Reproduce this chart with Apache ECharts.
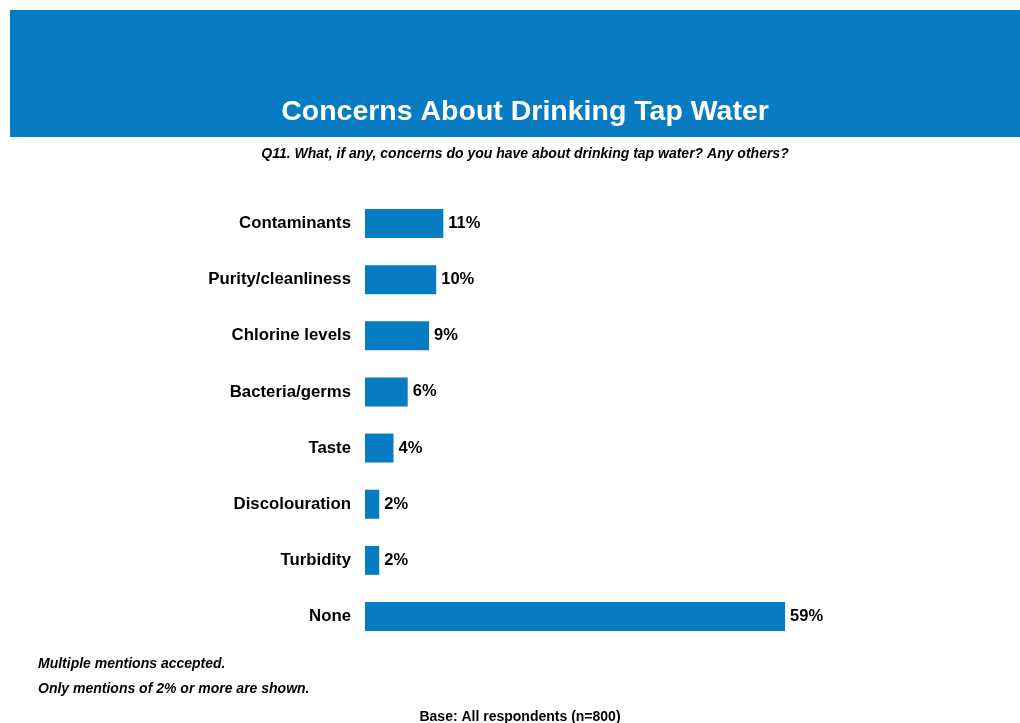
<!DOCTYPE html>
<html>
<head>
<meta charset="utf-8">
<script src="https://cdn.jsdelivr.net/npm/echarts@6/dist/echarts.min.js"></script>
<style>
  html, body { margin: 0; padding: 0; background: #fff; }
  #chart { width: 1020px; height: 723px; }
</style>
</head>
<body>
<div id="chart"></div>
<script>
// Survey responses: concerns about drinking tap water (% of respondents)
const categories = ['Contaminants', 'Purity/cleanliness', 'Chlorine levels', 'Bacteria/germs', 'Taste', 'Discolouration', 'Turbidity', 'None'];
const values = [11, 10, 9, 6, 4, 2, 2, 59];

const titleText = 'Concerns About Drinking Tap Water';
const questionText = 'Q11. What, if any, concerns do you have about drinking tap water? Any others?';
const noteLines = ['Multiple mentions accepted.', 'Only mentions of 2% or more are shown.'];
const baseText = 'Base: All respondents (n=800)';

const BLUE = '#087CC2';
const FONT = '"Liberation Sans", Arial, Helvetica, sans-serif';

// text centred vertically on y
const txt = (x, y, text, font, align, fill) => ({
  type: 'text', x, y, z: 2,
  style: { text, font, fill: fill || '#000', align, verticalAlign: 'middle' }
});

const chart = echarts.init(document.getElementById('chart'));
chart.setOption({
  animation: false,
  graphic: [
    { type: 'rect', shape: { x: 10, y: 10, width: 1010, height: 127 }, style: { fill: BLUE }, z: 0 },
    txt(525, 112, titleText, 'bold 28.5px ' + FONT, 'center', '#fff'),
    txt(525, 154, questionText, 'italic bold 14px ' + FONT, 'center'),
    txt(38, 664, noteLines[0], 'italic bold 14px ' + FONT, 'left'),
    txt(38, 689, noteLines[1], 'italic bold 14px ' + FONT, 'left'),
    txt(520, 717, baseText, 'bold 14px ' + FONT, 'center')
  ],
  grid: { left: 365, right: 85.4, top: 195.4, bottom: 78.4, containLabel: false },
  xAxis: {
    type: 'value', min: 0, max: 80, show: false
  },
  yAxis: {
    type: 'category',
    inverse: true,
    data: categories,
    axisLine: { show: false },
    axisTick: { show: false },
    axisLabel: { margin: 14, color: '#000', fontFamily: FONT, fontWeight: 'bold', fontSize: 16.8, padding: [2, 0, 0, 0] }
  },
  series: [{
    type: 'bar',
    data: values,
    barWidth: 29,
    itemStyle: { color: BLUE },
    label: {
      show: true, position: 'right', distance: 5,
      formatter: p => p.value + '%',
      color: '#000', fontFamily: FONT, fontWeight: 'bold', fontSize: 16.5, padding: [2, 0, 0, 0]
    }
  }]
});
</script>
</body>
</html>
